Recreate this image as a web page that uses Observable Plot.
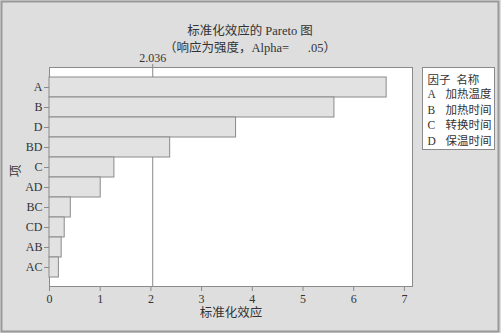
<!DOCTYPE html>
<html><head><meta charset="utf-8">
<script src="https://cdn.jsdelivr.net/npm/d3@7"></script>
<script src="https://cdn.jsdelivr.net/npm/@observablehq/plot@0.6"></script>
<style>
html,body{margin:0;padding:0;background:#dedede;}
#chart{width:501px;height:333px;}
</style></head><body><div id="chart"></div>
<script>
// Standardized effects, ordered by magnitude
const terms = ["A","B","D","BD","C","AD","BC","CD","AB","AC"];
const effects = [6.65, 5.62, 3.68, 2.38, 1.28, 1.01, 0.42, 0.30, 0.24, 0.185];
const xTicks = [0,1,2,3,4,5,6,7];
const criticalValue = 2.036;
const titleLines = ["标准化效应的 Pareto 图", "（响应为强度，Alpha=      .05）"];
const xLabel = "标准化效应";
const yLabel = "项";
const legendHeader = "因子  名称";
const factors = ["A","B","C","D"];
const factorNames = ["加热温度","加热时间","转换时间","保温时间"];

const data = terms.map((t, i) => ({term: t, value: effects[i]}));
const font = "'Liberation Serif', 'Noto Sans CJK SC', serif";
const ink = "#333";
const line = "#8a8a8a";

const chart = Plot.plot({
  width: 501,
  height: 333,
  marginLeft: 49,
  marginRight: 89,
  marginTop: 67,
  marginBottom: 47,
  style: {background: "#dedede", fontFamily: font, fontSize: "12px", color: ink},
  x: {domain: [0, 7.16]},
  y: {domain: terms, paddingInner: 0, paddingOuter: 0.25},
  marks: [
    Plot.frame({fill: "white", stroke: line}),
    Plot.ruleX([criticalValue], {stroke: line, strokeWidth: 1}),
    Plot.barX(data, {x: "value", y: "term", fill: "#e2e2e2", stroke: line, strokeWidth: 1}),
    Plot.axisX({anchor: "bottom", ticks: xTicks, tickSize: 5, tickPadding: 3, label: null, stroke: line, fill: ink, fontSize: 12}),
    Plot.axisX({anchor: "top", ticks: [criticalValue], tickFormat: () => "2.036", tickSize: 4, tickPadding: 2, label: null, stroke: line, fill: ink, fontSize: 12}),
    Plot.axisY({anchor: "left", tickSize: 5, tickPadding: 2, label: null, stroke: line, fill: ink, fontSize: 12}),
    Plot.text([titleLines[0]], {frameAnchor: "top", dx: 19, dy: -41, fontSize: 12.5, fill: ink}),
    Plot.text([titleLines[1]], {frameAnchor: "top", dx: 19, dy: -24, fontSize: 12.5, fill: ink}),
    Plot.text([xLabel], {frameAnchor: "bottom", dy: 30, fontSize: 12.5, fill: ink}),
    Plot.text([yLabel], {frameAnchor: "left", dx: -34, rotate: -90, fontSize: 12.5, fill: ink}),
    // factor legend to the right of the frame
    Plot.text([legendHeader], {frameAnchor: "top-right", dx: 15, dy: 8.5, textAnchor: "start", fontSize: 11.5, fill: ink}),
    Plot.text([factors.join("\n")], {frameAnchor: "top-right", dx: 15, dy: 19.5, textAnchor: "start", lineAnchor: "top", lineHeight: 1.36, fontSize: 11.5, fill: ink}),
    Plot.text([factorNames.join("\n")], {frameAnchor: "top-right", dx: 33, dy: 19.5, textAnchor: "start", lineAnchor: "top", lineHeight: 1.36, fontSize: 11.5, fill: ink, style: "letter-spacing:0.8px"})
  ]
});

// legend box and outer border
const svg = d3.select(chart);
svg.insert("rect", ":first-child")
  .attr("x", 422.5).attr("y", 67.5).attr("width", 72).attr("height", 82)
  .attr("fill", "white").attr("stroke", line);
svg.append("rect")
  .attr("x", 1.5).attr("y", 1.5).attr("width", 497).attr("height", 330)
  .attr("fill", "none").attr("stroke", "#999").attr("stroke-width", 2);

document.getElementById("chart").appendChild(chart);
</script>
</body></html>
